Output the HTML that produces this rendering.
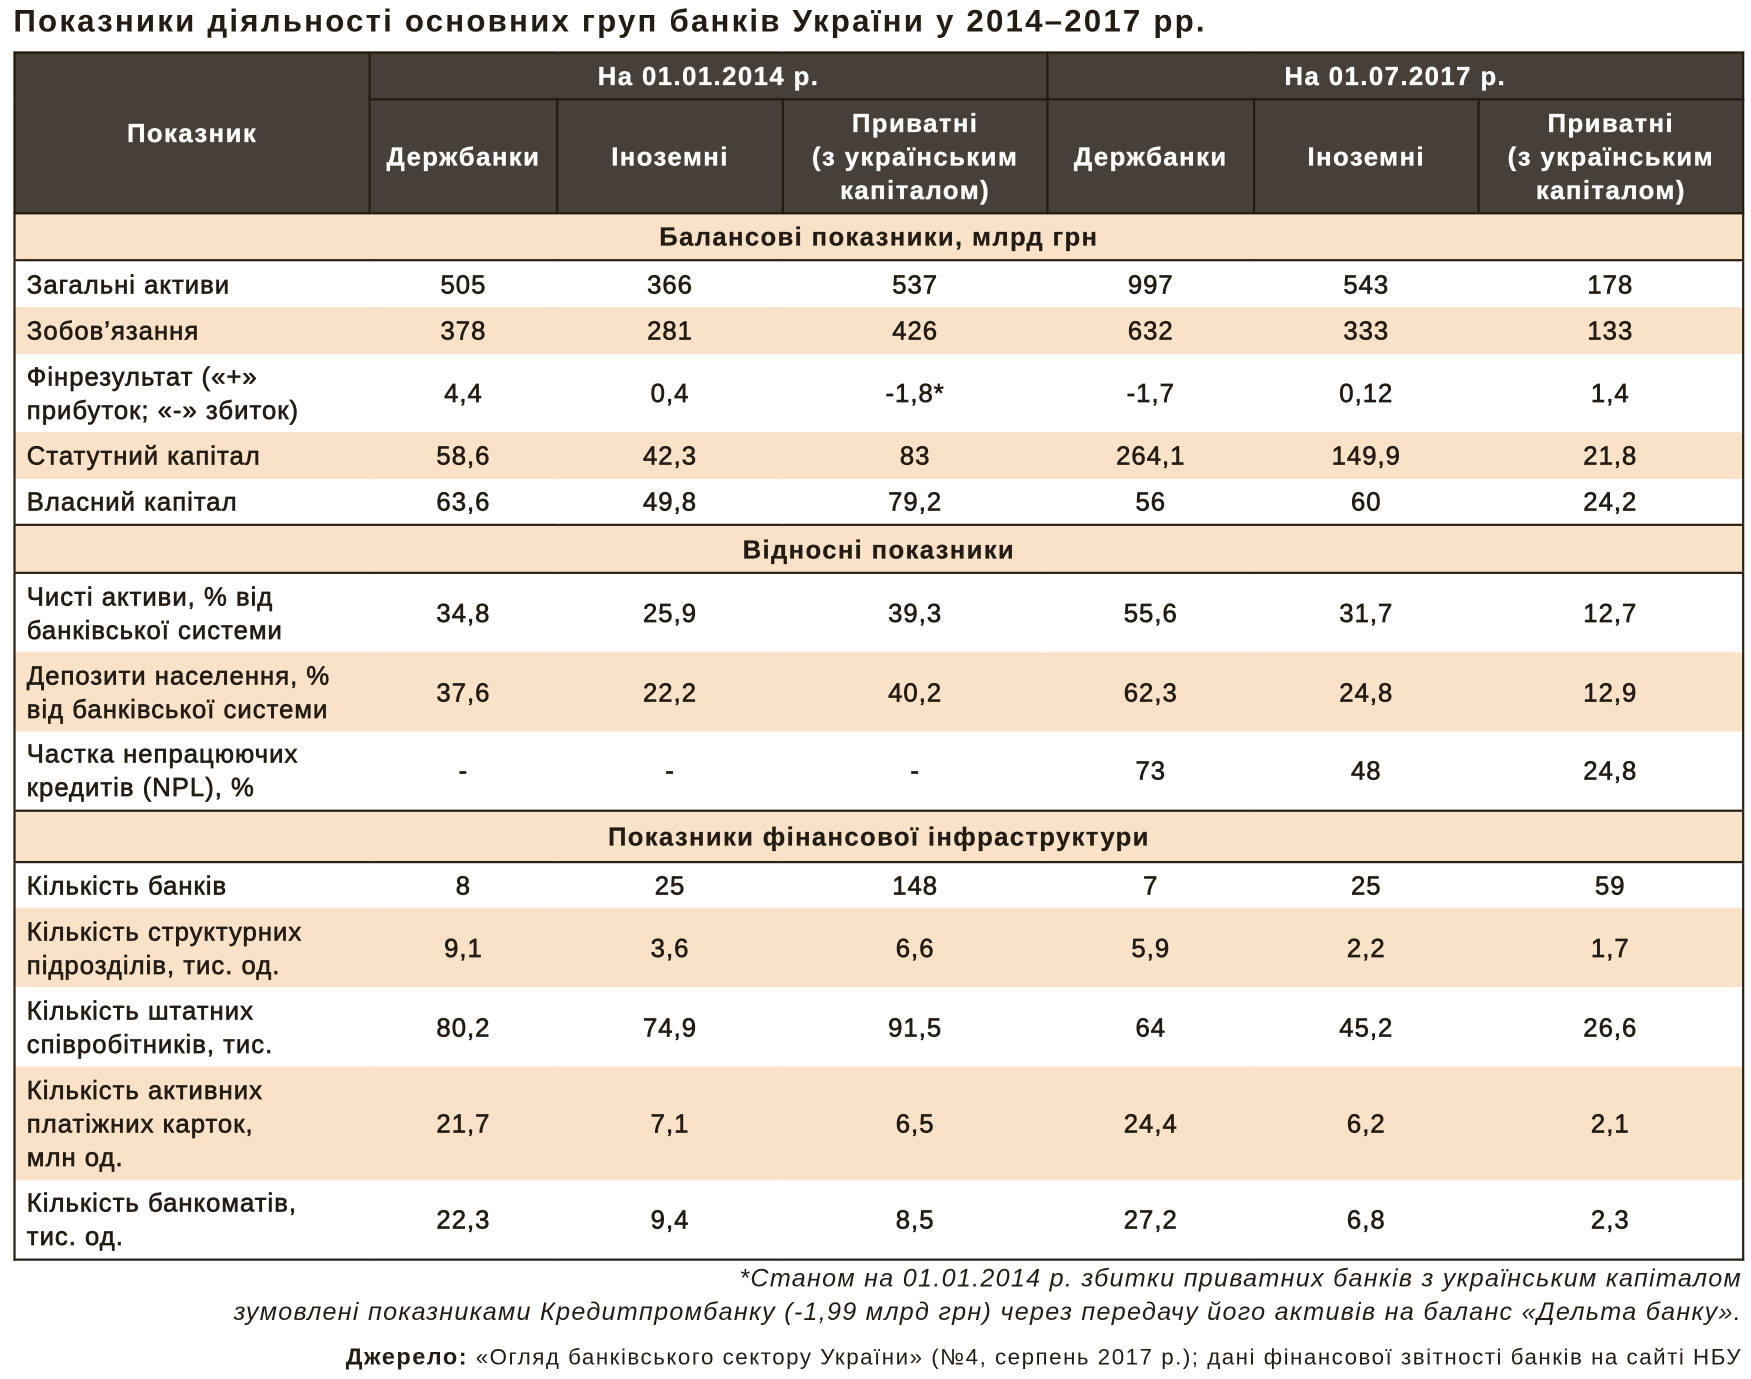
<!DOCTYPE html>
<html><head><meta charset="utf-8">
<style>
html,body{margin:0;padding:0;background:#fff;}
body{width:1751px;height:1379px;overflow:hidden;position:relative;}
#wrap{position:absolute;left:0;top:0;width:1568px;height:1235px;transform:scale(1.1167);transform-origin:0 0;font-family:"Liberation Sans","DejaVu Sans",sans-serif;color:#231c14;}
#title{position:absolute;left:12px;top:3px;font-size:28px;font-weight:bold;white-space:nowrap;letter-spacing:1.95px;}
table{position:absolute;left:12px;top:46px;width:1548px;border-collapse:collapse;table-layout:fixed;border:2px solid #2a2218;}
td,th{padding:0;text-align:center;vertical-align:middle;font-size:23px;-webkit-text-stroke:0.6px #231c14;line-height:30px;letter-spacing:0.9px;}
th{background:#47403a;color:#fff;border:2px solid #231a10;font-weight:bold;-webkit-text-stroke:0.3px #fff;letter-spacing:1.3px;}
td.l{text-align:left;padding-left:10px;}
tr.b td{background:#f9e2c8;}
tr.s td{background:#f9e2c8;font-weight:bold;border-top:2px solid #2a2218;border-bottom:2px solid #2a2218;-webkit-text-stroke:0.2px #231c14;letter-spacing:1.2px;}
#fn{position:absolute;right:8px;top:1130px;text-align:right;font-style:italic;font-size:22.5px;line-height:30px;white-space:nowrap;letter-spacing:1.15px;}
#src{position:absolute;right:8px;top:1204px;font-size:20px;white-space:nowrap;letter-spacing:1.35px;}
</style></head>
<body>
<div id="wrap">
<div id="title">Показники діяльності основних груп банків України у 2014–2017 рр.</div>
<table>
<colgroup><col style="width:318px"><col style="width:168px"><col style="width:202px"><col style="width:237px"><col style="width:185px"><col style="width:201px"><col style="width:237px"></colgroup>
<tr style="height:42px"><th rowspan="2">Показник</th><th colspan="3">На 01.01.2014 р.</th><th colspan="3">На 01.07.2017 р.</th></tr>
<tr style="height:102px"><th>Держбанки</th><th>Іноземні</th><th>Приватні<br>(з українським<br>капіталом)</th><th>Держбанки</th><th>Іноземні</th><th>Приватні<br>(з українським<br>капіталом)</th></tr>
<tr class="s" style="height:42px"><td colspan="7">Балансові показники, млрд грн</td></tr>
<tr style="height:42px"><td class="l">Загальні активи</td><td>505</td><td>366</td><td>537</td><td>997</td><td>543</td><td>178</td></tr>
<tr class="b" style="height:42px"><td class="l">Зобов’язання</td><td>378</td><td>281</td><td>426</td><td>632</td><td>333</td><td>133</td></tr>
<tr style="height:70px"><td class="l">Фінрезультат («+»<br>прибуток; «-» збиток)</td><td>4,4</td><td>0,4</td><td>-1,8*</td><td>-1,7</td><td>0,12</td><td>1,4</td></tr>
<tr class="b" style="height:42px"><td class="l">Статутний капітал</td><td>58,6</td><td>42,3</td><td>83</td><td>264,1</td><td>149,9</td><td>21,8</td></tr>
<tr style="height:41px"><td class="l">Власний капітал</td><td>63,6</td><td>49,8</td><td>79,2</td><td>56</td><td>60</td><td>24,2</td></tr>
<tr class="s" style="height:43px"><td colspan="7">Відносні показники</td></tr>
<tr style="height:71px"><td class="l">Чисті активи, % від<br>банківської системи</td><td>34,8</td><td>25,9</td><td>39,3</td><td>55,6</td><td>31,7</td><td>12,7</td></tr>
<tr class="b" style="height:71px"><td class="l">Депозити населення, %<br>від банківської системи</td><td>37,6</td><td>22,2</td><td>40,2</td><td>62,3</td><td>24,8</td><td>12,9</td></tr>
<tr style="height:71px"><td class="l">Частка непрацюючих<br>кредитів (NPL), %</td><td>-</td><td>-</td><td>-</td><td>73</td><td>48</td><td>24,8</td></tr>
<tr class="s" style="height:46px"><td colspan="7">Показники фінансової інфраструктури</td></tr>
<tr style="height:41px"><td class="l">Кількість банків</td><td>8</td><td>25</td><td>148</td><td>7</td><td>25</td><td>59</td></tr>
<tr class="b" style="height:71px"><td class="l">Кількість структурних<br>підрозділів, тис. од.</td><td>9,1</td><td>3,6</td><td>6,6</td><td>5,9</td><td>2,2</td><td>1,7</td></tr>
<tr style="height:71px"><td class="l">Кількість штатних<br>співробітників, тис.</td><td>80,2</td><td>74,9</td><td>91,5</td><td>64</td><td>45,2</td><td>26,6</td></tr>
<tr class="b" style="height:102px"><td class="l">Кількість активних<br>платіжних карток,<br>млн од.</td><td>21,7</td><td>7,1</td><td>6,5</td><td>24,4</td><td>6,2</td><td>2,1</td></tr>
<tr style="height:71px"><td class="l">Кількість банкоматів,<br>тис. од.</td><td>22,3</td><td>9,4</td><td>8,5</td><td>27,2</td><td>6,8</td><td>2,3</td></tr>
</table>
<div id="fn">*Станом на 01.01.2014 р. збитки приватних банків з українським капіталом<br>зумовлені показниками Кредитпромбанку (-1,99 млрд грн) через передачу його активів на баланс «Дельта банку».</div>
<div id="src"><b style="font-size:21px">Джерело:</b> «Огляд банківського сектору України» (№4, серпень 2017 р.); дані фінансової звітності банків на сайті НБУ</div>
</div>
</body></html>
